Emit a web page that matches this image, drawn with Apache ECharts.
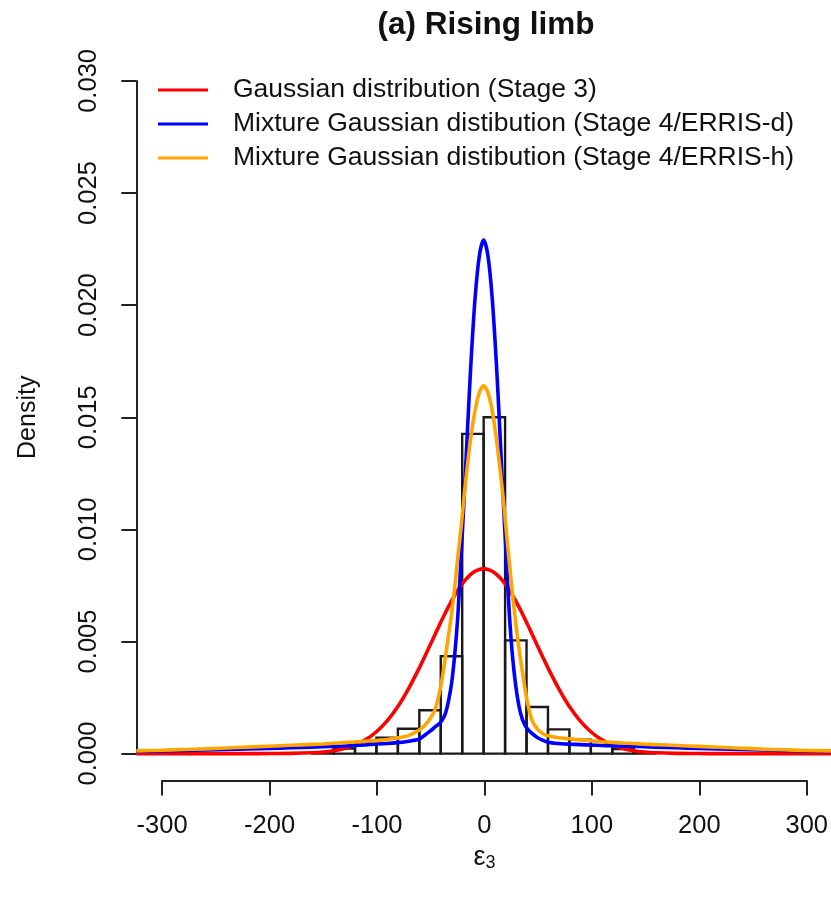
<!DOCTYPE html>
<html>
<head>
<meta charset="utf-8">
<script src="https://cdn.jsdelivr.net/npm/echarts@6/dist/echarts.min.js"></script>
<style>
  html, body { margin: 0; padding: 0; background: #ffffff; }
  #chart { width: 831px; height: 906px; }
</style>
</head>
<body>
<div id="chart"></div>
<script>
// ---------------- data ----------------
const titleText = '(a) Rising limb';
const seriesNames = [
  'Gaussian distribution (Stage 3)',
  'Mixture Gaussian distibution (Stage 4/ERRIS-d)',
  'Mixture Gaussian distibution (Stage 4/ERRIS-h)'
];
const xTicks = [-300, -200, -100, 0, 100, 200, 300];
const yTicks = [0.000, 0.005, 0.010, 0.015, 0.020, 0.025, 0.030];

// histogram: bin edges and densities
const binEdges = [-160, -140, -120, -100, -80, -60, -40, -20, 0, 20, 40, 60, 80, 100, 120, 140, 160];
const binDensity = [0.00004, 0.00022, 0.00052, 0.00071, 0.00111, 0.00193, 0.00434, 0.01426,
                    0.01500, 0.00505, 0.00208, 0.00108, 0.00062, 0.00036, 0.00020, 0.00004];

// sample points of the curves
const curveX = [-324, -300, -280, -260, -240, -220, -200, -180, -160, -150, -140, -130, -120, -110,
  -100, -90, -80, -70, -60, -55, -50, -45, -40, -36, -33, -30, -27, -24, -21, -18, -15, -12, -8, -4,
  0, 4, 8, 12, 15, 18, 21, 24, 27, 30, 33, 36, 40, 45, 50, 55, 60, 70, 80, 90, 100, 110, 120, 130,
  140, 150, 160, 180, 200, 220, 240, 260, 280, 300, 324];

const gaussStage3 = [0, 0, 0, 0, 0, 0.0000003, 0.0000016, 0.0000082, 0.000035, 0.000068, 0.000126, 0.000224, 0.000381, 0.000623,
  0.000975, 0.00146, 0.0021, 0.0029, 0.00382, 0.00432, 0.00483, 0.00535, 0.00586, 0.00625, 0.00653, 0.0068, 0.00705, 0.00729, 0.0075, 0.00769, 0.00785, 0.00799, 0.00813, 0.00821,
  0.00825, 0.00821, 0.00813, 0.00799, 0.00785, 0.00769, 0.0075, 0.00729, 0.00705, 0.0068, 0.00653, 0.00625, 0.00586, 0.00535, 0.00483, 0.00432, 0.00382, 0.0029, 0.0021, 0.00146, 0.000975, 0.000623, 0.000381, 0.000224,
  0.000126, 0.000068, 0.000035, 0.0000082, 0.0000016, 0.0000003, 0, 0, 0, 0, 0];

const mixErrisD = [0.00010, 0.00012, 0.00014, 0.00016, 0.00018, 0.00021, 0.00023, 0.00026, 0.00029, 0.00031, 0.00032, 0.00034, 0.00036, 0.00039,
  0.00043, 0.00045, 0.00049, 0.00055, 0.00065, 0.00082, 0.00100, 0.00120, 0.00140, 0.00175, 0.0023, 0.0031, 0.0044, 0.0062, 0.0088, 0.0116, 0.0145, 0.0173, 0.0203, 0.0222,
  0.0229, 0.0222, 0.0203, 0.0173, 0.0145, 0.0116, 0.0088, 0.0062, 0.0043, 0.0030, 0.0021, 0.00155, 0.00115, 0.00090, 0.00072, 0.00060, 0.00051, 0.00045, 0.00042, 0.00040, 0.00038, 0.00036, 0.00035, 0.00033,
  0.00032, 0.00031, 0.00029, 0.00026, 0.00023, 0.00021, 0.00018, 0.00016, 0.00014, 0.00012, 0.00010];

const mixErrisH = [0.00012, 0.00015, 0.00018, 0.00021, 0.00025, 0.00029, 0.00033, 0.00037, 0.00041, 0.00043, 0.00046, 0.00049, 0.00052, 0.00055,
  0.00058, 0.00063, 0.00070, 0.00080, 0.00105, 0.00125, 0.00155, 0.0020, 0.0030, 0.0042, 0.0052, 0.0062, 0.0074, 0.0088, 0.0101, 0.0116, 0.0129, 0.0141, 0.0153, 0.0161,
  0.0164, 0.0161, 0.0153, 0.0140, 0.0128, 0.0115, 0.0100, 0.0085, 0.0071, 0.0058, 0.0047, 0.0037, 0.0025, 0.0015, 0.0011, 0.00090, 0.00080, 0.00071, 0.00066, 0.00061, 0.00057, 0.00053, 0.00050, 0.00047,
  0.00045, 0.00042, 0.00040, 0.00036, 0.00032, 0.00028, 0.00024, 0.00020, 0.00017, 0.00014, 0.00012];

const lineColors = ['#ff0000', '#0000ff', '#ffa500'];

// ---------------- layout ----------------
const FONT = '"Liberation Sans", Arial, Helvetica, sans-serif';
const plot = { left: 136.3, right: 833.5, top: 54, bottom: 780.5 };
const xUsr = [-324, 324];
const yUsr = [-0.0012, 0.0312];
const xPx = v => plot.left + (v - xUsr[0]) / (xUsr[1] - xUsr[0]) * (plot.right - plot.left);
const yPx = v => plot.bottom - (v - yUsr[0]) / (yUsr[1] - yUsr[0]) * (plot.bottom - plot.top);

const histData = binDensity.map((d, i) => [binEdges[i], binEdges[i + 1], d]);
const mk = arr => curveX.map((x, i) => [x, arr[i]]);

const axisColor = '#222222';
const LW = 3.6;

const chart = echarts.init(document.getElementById('chart'), null, { renderer: 'canvas' });
chart.setOption({
  backgroundColor: '#ffffff',
  animation: false,
  textStyle: { fontFamily: FONT },
  graphic: [{
    type: 'text', x: 486, y: 9,
    style: { text: titleText, font: 'bold 31.5px ' + FONT, fill: '#111', textAlign: 'center', textVerticalAlign: 'top' }
  }],
  legend: {
    orient: 'vertical', left: 153, top: 68,
    data: seriesNames,
    icon: 'rect', itemWidth: 50, itemHeight: 3, itemGap: 0,
    textStyle: { fontSize: 26.5, color: '#111', fontFamily: FONT, lineHeight: 34, padding: [0, 0, 0, 20] }
  },
  grid: [
    { left: plot.left, top: plot.top, width: plot.right - plot.left, height: plot.bottom - plot.top },
    { left: xPx(xTicks[0]), top: plot.bottom - 1, width: xPx(xTicks[xTicks.length - 1]) - xPx(xTicks[0]), height: 1 },
    { left: plot.left, top: yPx(yTicks[yTicks.length - 1]), width: 1, height: yPx(yTicks[0]) - yPx(yTicks[yTicks.length - 1]) }
  ],
  xAxis: [
    { gridIndex: 0, type: 'value', min: xUsr[0], max: xUsr[1], show: false },
    { gridIndex: 1, type: 'value', min: xTicks[0], max: xTicks[xTicks.length - 1], interval: 100,
      axisLine: { show: true, lineStyle: { color: axisColor, width: 2 } },
      axisTick: { show: true, length: 15, lineStyle: { color: axisColor, width: 2 } },
      axisLabel: { fontSize: 25.5, color: '#111', margin: 32, fontFamily: FONT, showMinLabel: true, showMaxLabel: true },
      splitLine: { show: false },
      name: '{e|ε}{s|3}', nameLocation: 'middle', nameGap: 62,
      nameTextStyle: { color: '#111', rich: {
        e: { fontSize: 27, lineHeight: 30, fontFamily: FONT, color: '#111' },
        s: { fontSize: 18, lineHeight: 18, verticalAlign: 'bottom', fontFamily: FONT, color: '#111' }
      } } },
    { gridIndex: 2, type: 'value', show: false }
  ],
  yAxis: [
    { gridIndex: 0, type: 'value', min: yUsr[0], max: yUsr[1], show: false },
    { gridIndex: 1, type: 'value', show: false },
    { gridIndex: 2, type: 'value', min: yTicks[0], max: yTicks[yTicks.length - 1], interval: 0.005,
      axisLine: { show: true, lineStyle: { color: axisColor, width: 2 } },
      axisTick: { show: true, length: 15, lineStyle: { color: axisColor, width: 2 } },
      axisLabel: { fontSize: 25.5, color: '#111', margin: 34, rotate: 90, fontFamily: FONT,
        showMinLabel: true, showMaxLabel: true, formatter: v => v.toFixed(3) },
      splitLine: { show: false },
      name: 'Density', nameLocation: 'middle', nameGap: 96, nameRotate: 90,
      nameTextStyle: { fontSize: 25, color: '#111', fontFamily: FONT } }
  ],
  series: [
    {
      type: 'custom', name: 'hist', xAxisIndex: 0, yAxisIndex: 0,
      data: histData, encode: { x: [0, 1], y: 2 }, clip: true,
      renderItem: (params, api) => {
        const p0 = api.coord([api.value(0), 0]);
        const p1 = api.coord([api.value(1), api.value(2)]);
        return {
          type: 'rect',
          shape: { x: p0[0], y: p1[1], width: p1[0] - p0[0], height: p0[1] - p1[1] },
          style: { fill: 'none', stroke: '#1a1a1a', lineWidth: 2.4 }
        };
      },
      z: 1
    },
    { type: 'line', name: seriesNames[0], data: mk(gaussStage3), xAxisIndex: 0, yAxisIndex: 0,
      showSymbol: false, symbol: 'none', smooth: 0.3, color: lineColors[0],
      lineStyle: { color: lineColors[0], width: LW }, z: 3 },
    { type: 'line', name: seriesNames[1], data: mk(mixErrisD), xAxisIndex: 0, yAxisIndex: 0,
      showSymbol: false, symbol: 'none', smooth: 0.3, color: lineColors[1],
      lineStyle: { color: lineColors[1], width: LW }, z: 3 },
    { type: 'line', name: seriesNames[2], data: mk(mixErrisH), xAxisIndex: 0, yAxisIndex: 0,
      showSymbol: false, symbol: 'none', smooth: 0.3, color: lineColors[2],
      lineStyle: { color: lineColors[2], width: LW }, z: 3 }
  ]
});
</script>
</body>
</html>
